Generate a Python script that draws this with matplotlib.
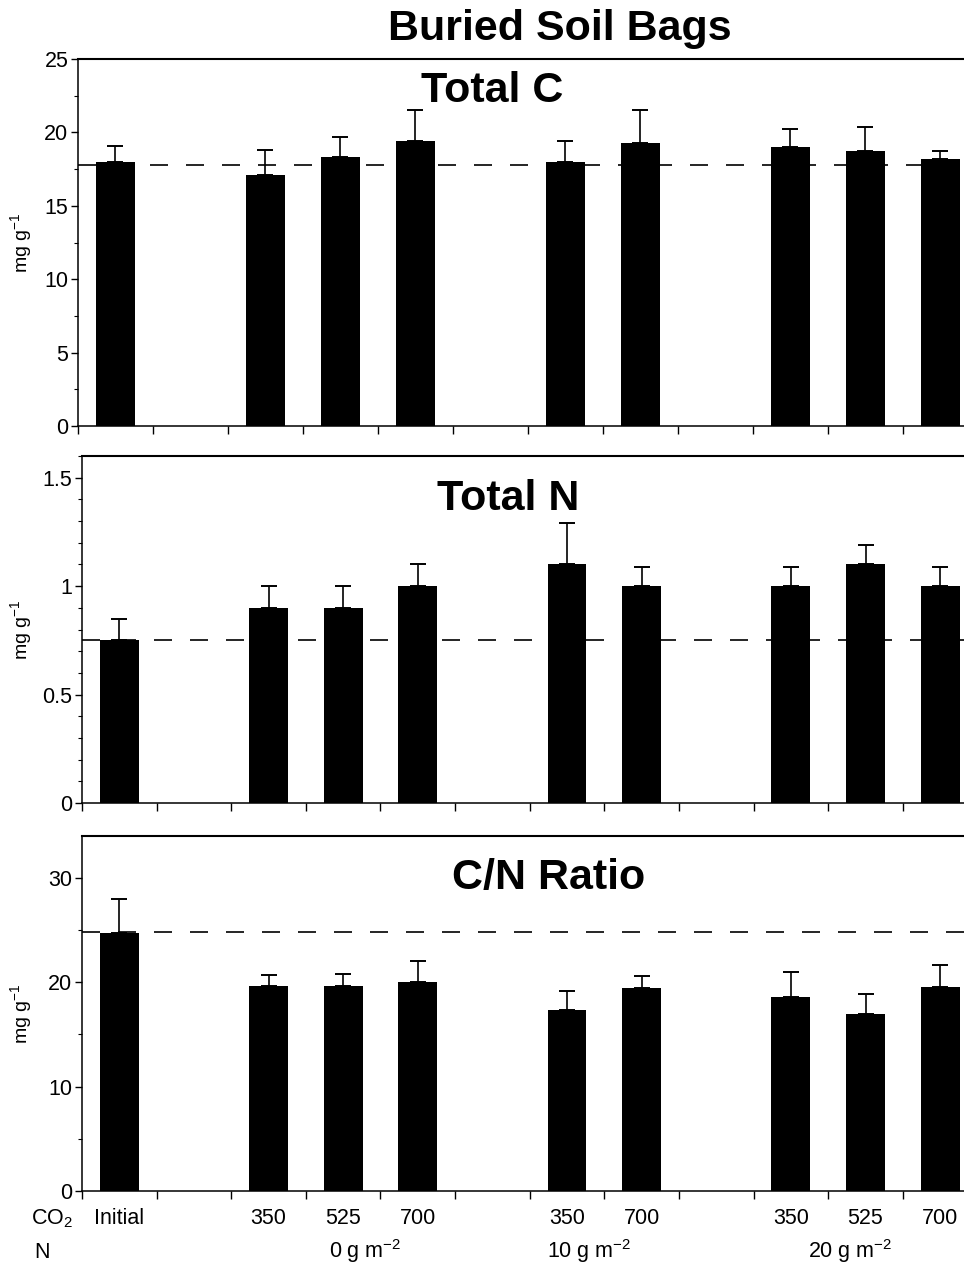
import numpy as np
import matplotlib
matplotlib.use("Agg")
import matplotlib.pyplot as plt
from matplotlib.ticker import MultipleLocator, FuncFormatter
from matplotlib.transforms import blended_transform_factory

plt.rcParams["font.family"] = ["Liberation Sans", "DejaVu Sans"]
plt.rcParams["mathtext.default"] = "regular"

# treatments, left to right
co2_labels = ["Initial", "350", "525", "700", "350", "700", "350", "525", "700"]
n_labels = ["0 g m$^{-2}$", "10 g m$^{-2}$", "20 g m$^{-2}$"]
group_sizes = [1, 3, 2, 3]   # Initial, 0 g, 10 g, 20 g

total_c = [18.0, 17.1, 18.3, 19.4, 18.0, 19.3, 19.0, 18.7, 18.2]
total_c_err = [1.1, 1.7, 1.4, 2.1, 1.4, 2.2, 1.2, 1.7, 0.5]
total_n = [0.75, 0.90, 0.90, 1.00, 1.10, 1.00, 1.00, 1.10, 1.00]
total_n_err = [0.10, 0.10, 0.10, 0.10, 0.19, 0.09, 0.09, 0.09, 0.09]
cn_ratio = [24.7, 19.6, 19.6, 20.0, 17.3, 19.4, 18.6, 17.0, 19.5]
cn_ratio_err = [3.3, 1.1, 1.2, 2.0, 1.9, 1.2, 2.4, 1.9, 2.1]
initial_level = [17.8, 0.75, 24.8]

# bar positions: one empty slot between groups
pos = []
slot = 0
for size in group_sizes:
    pos += [slot + i + 0.5 for i in range(size)]
    slot += size + 1
pos = np.array(pos)

W, H = 964, 1265
fig = plt.figure(figsize=(W / 100, H / 100), dpi=100)

panels = [
    # title, values, errors, ymax, major, minor, (left, top, bottom) px, title x, title baseline
    ("Total C", total_c, total_c_err, 25, 5, 2.5, (78, 59, 426), 492, 102),
    ("Total N", total_n, total_n_err, 1.6, 0.5, 0.1, (82, 456, 803), 508, 510),
    ("C/N Ratio", cn_ratio, cn_ratio_err, 34, 10, 5, (82, 836, 1191), 549, 889),
]

axes = []
for k, (title, vals, err, ymax, major, minor, (l, t, b), tx, ty) in enumerate(panels):
    ax = fig.add_axes([l / W, 1 - b / H, (W - l) / W, (b - t) / H])
    ax.axhline(initial_level[k], color="black", lw=1.2, dashes=(10.8, 10.8), zorder=1)
    ax.bar(pos, vals, width=0.52, color="black", zorder=2)
    ax.errorbar(pos, vals, yerr=[np.zeros(len(vals)), err], fmt="none",
                ecolor="black", elinewidth=1.2, capsize=5.5, capthick=1.4, zorder=3)
    ax.set_xlim(0, 11.82)
    ax.set_ylim(0, ymax)
    ax.set_xticks(np.arange(0, 12))
    ax.set_xticklabels([])
    ax.yaxis.set_major_locator(MultipleLocator(major))
    ax.yaxis.set_minor_locator(MultipleLocator(minor))
    ax.yaxis.set_major_formatter(FuncFormatter(lambda v, p: f"{v:g}"))
    ax.tick_params(axis="x", which="major", direction="out", length=6, width=1)
    ax.tick_params(axis="y", which="major", direction="out", length=5, width=1,
                   labelsize=15.5, pad=2)
    ax.tick_params(axis="y", which="minor", direction="out", length=3, width=0.8)
    ax.spines["right"].set_visible(False)
    ax.spines["top"].set_linewidth(1.5)
    ax.spines["left"].set_linewidth(1.1)
    ax.spines["bottom"].set_linewidth(1.1)
    fig.text(21 / W, 1 - (t + b) / 2 / H, "mg g$^{-1}$", rotation=90,
             ha="center", va="center", fontsize=14)
    fig.text(tx / W, 1 - ty / H, title, ha="center", va="baseline",
             fontsize=31, fontweight="bold")
    axes.append(ax)

fig.text(560 / W, 1 - 40 / H, "Buried Soil Bags", ha="center", va="baseline",
         fontsize=31, fontweight="bold")

# bottom axis labels
ax = axes[-1]
ax.set_xticks(pos, minor=True)
ax.set_xticklabels(co2_labels, minor=True, fontsize=15.5)
ax.tick_params(axis="x", which="minor", length=0, pad=12)

trans = blended_transform_factory(ax.transData, ax.transAxes)
n_label_x = [3.8, 6.8, 10.3]
for x, lab in zip(n_label_x, n_labels):
    ax.text(x, -0.189, lab, transform=trans, ha="center", va="baseline", fontsize=15.5)

fig.text(31 / W, 1 - 1224 / H, "CO$_2$", ha="left", va="baseline", fontsize=15.5)
fig.text(34 / W, 1 - 1258 / H, "N", ha="left", va="baseline", fontsize=15.5)

fig.savefig("out.png", dpi=100)
